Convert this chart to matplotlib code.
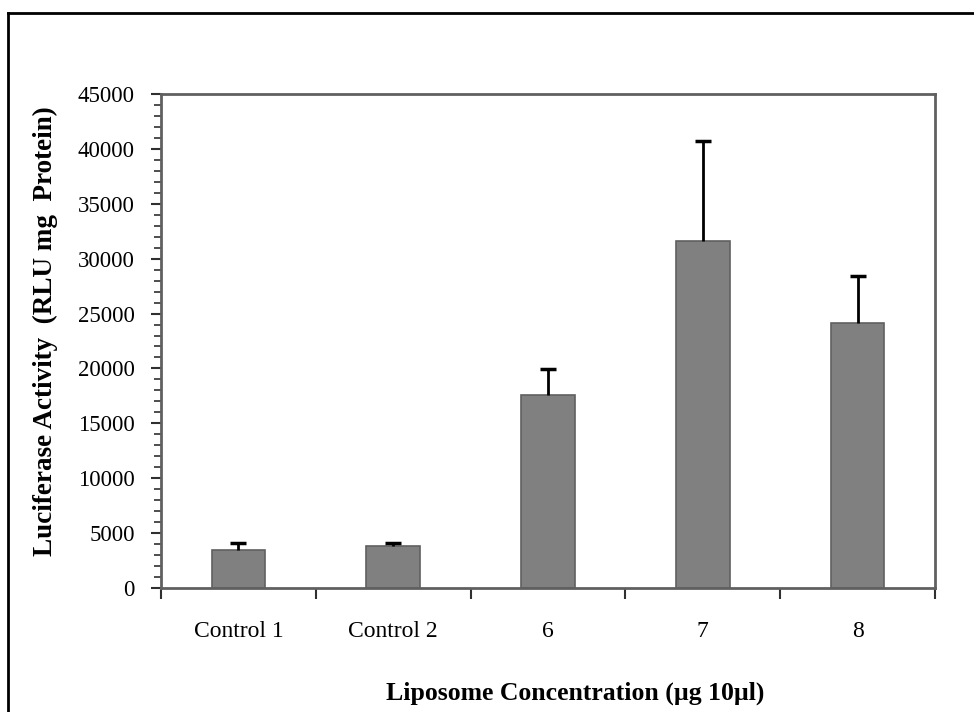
import matplotlib
matplotlib.use("Agg")
import matplotlib.pyplot as plt
from matplotlib.lines import Line2D
from matplotlib.ticker import MultipleLocator

categories = ["Control 1", "Control 2", "6", "7", "8"]
values = [3420, 3790, 17550, 31600, 24150]
errors = [640, 330, 2420, 9100, 4300]
y_ticks = [0, 5000, 10000, 15000, 20000, 25000, 30000, 35000, 40000, 45000]

W, H = 974, 712
fig = plt.figure(figsize=(W / 100, H / 100), dpi=100)
fig.patch.set_facecolor("white")

left, right, top, bottom = 161, 935, 94, 588
ax = fig.add_axes([left / W, 1 - bottom / H, (right - left) / W, (bottom - top) / H])

serif = ["Liberation Serif", "DejaVu Serif"]
x = list(range(len(categories)))
ax.bar(x, values, width=0.345, color="#808080", edgecolor="#606060", linewidth=1.2, zorder=2)
_, caps, _ = ax.errorbar(x, values, yerr=[[0] * len(errors), errors], fmt="none", ecolor="black",
                         elinewidth=2, capsize=6, capthick=2.5, zorder=3)
# upper error only: hide the cap drawn at the bar top
caps[0].set_visible(False)

ax.set_xlim(-0.5, len(categories) - 0.5)
ax.set_ylim(0, 45000)
ax.set_yticks(y_ticks)
ax.set_yticklabels([str(v) for v in y_ticks])
ax.yaxis.set_minor_locator(MultipleLocator(1000))

# category labels centred on bars, ticks on category boundaries
ax.set_xticks([i - 0.5 for i in range(len(categories) + 1)])
ax.set_xticklabels([])
ax.set_xticks(x, minor=True)
ax.set_xticklabels(categories, minor=True, fontsize=17, family=serif)
ax.tick_params(axis="x", which="minor", length=0, pad=24)
ax.tick_params(axis="x", which="major", direction="out", length=8, width=1.5, color="#303030")

ax.tick_params(axis="y", which="major", direction="out", length=7, width=1.5, color="#303030", pad=12)
ax.tick_params(axis="y", which="minor", direction="out", length=5, width=1.2, color="#303030")
for lbl in ax.get_yticklabels():
    lbl.set_fontsize(16.5)
    lbl.set_family(serif)

for s in ax.spines.values():
    s.set_color("#606060")
    s.set_linewidth(2)

ax.set_ylabel("Luciferase Activity  (RLU mg  Protein)", fontsize=19.5, fontweight="bold",
              family=serif, labelpad=14)
ax.set_xlabel("Liposome Concentration (µg 10µl)", fontsize=18.5, fontweight="bold",
              family=serif, labelpad=28)
ax.xaxis.label.set_x(0.535)
ax.yaxis.label.set_y(0.52)

# frame lines along the top and left edges of the figure
fig.add_artist(Line2D([7.5 / W, 7.5 / W], [0, 1 - 12.5 / H], transform=fig.transFigure,
                      color="black", linewidth=2))
fig.add_artist(Line2D([7.5 / W, 1], [1 - 12.5 / H, 1 - 12.5 / H], transform=fig.transFigure,
                      color="black", linewidth=2))

fig.savefig("out.png", dpi=100, facecolor="white")
